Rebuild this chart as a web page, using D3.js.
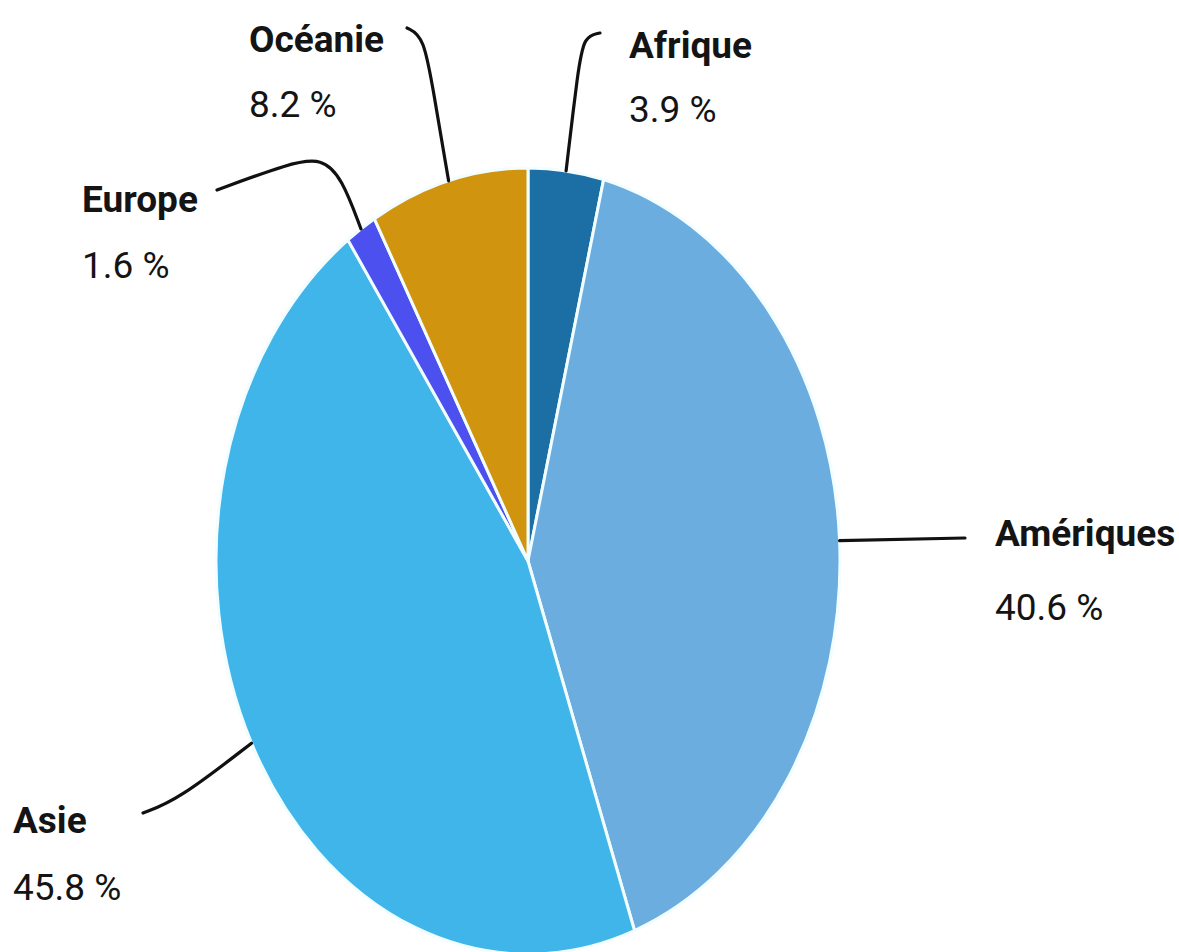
<!DOCTYPE html>
<html lang="fr">
<head>
<meta charset="utf-8">
<script src="https://cdn.jsdelivr.net/npm/d3@7"></script>
<style>
  html, body { margin: 0; padding: 0; background: #ffffff; }
  svg { display: block; }
  text { font-family: Roboto, "Noto Sans", sans-serif; fill: #141414; }
</style>
</head>
<body>
<svg id="chart" width="1179" height="952"></svg>
<script>
// Répartition par continent (%), dans le sens horaire depuis midi
const regions = ["Afrique", "Amériques", "Asie", "Europe", "Océanie"];
const shares = [3.9, 40.6, 45.8, 1.6, 8.2];
const shareLabels = ["3.9 %", "40.6 %", "45.8 %", "1.6 %", "8.2 %"];
const colors = ["#1b6fa5", "#6badde", "#40b5ea", "#4b50ee", "#d0940f"];

// Label anchors: [x, name baseline, value baseline]
const labelPos = [
  [629, 58, 122],
  [995, 546, 620],
  [13, 833, 900],
  [82, 212, 278],
  [249, 52, 117]
];
// Leader line control points, from the slice edge out to the label
const leaderPoints = [
  [[578, 70], [584, 36], [600, 33]],
  [[965, 538]],
  [[178, 800], [143, 813]],
  [[342, 178], [322, 158], [290, 163], [217, 190]],
  [[434, 95], [424, 36], [407, 28]]
];

const svg = d3.select("#chart");
const cx = 528, cy = 561, r = 312, sy = 1.26;

const pie = d3.pie().sort(null).value(d => d)(shares);
const arc = d3.arc().innerRadius(0).outerRadius(r);

// The disc is stretched vertically into an ellipse
const g = svg.append("g").attr("transform", `translate(${cx},${cy}) scale(1,${sy})`);
g.selectAll("path.slice")
  .data(pie)
  .join("path")
  .attr("class", "slice")
  .attr("d", arc)
  .attr("fill", (d, i) => colors[i])
  .attr("stroke", "#f2fdff")
  .attr("stroke-width", 3)
  .attr("stroke-linejoin", "round")
  .attr("vector-effect", "non-scaling-stroke");

// Leader lines start at each slice's mid-angle on the rim
const line = d3.line().curve(d3.curveBasis);
pie.forEach((d, i) => {
  const a = (d.startAngle + d.endAngle) / 2;
  const start = [cx + r * Math.sin(a), cy - r * sy * Math.cos(a)];
  svg.append("path")
    .attr("d", line([start, ...leaderPoints[i]]))
    .attr("fill", "none")
    .attr("stroke", "#111")
    .attr("stroke-width", 3.2)
    .attr("stroke-linecap", "round");
});

// Labels: region name (bold) and its share
regions.forEach((name, i) => {
  const [x, y1, y2] = labelPos[i];
  svg.append("text")
    .attr("x", x).attr("y", y1)
    .attr("font-size", 37).attr("font-weight", 700)
    .text(name);
  svg.append("text")
    .attr("x", x).attr("y", y2)
    .attr("font-size", 37).attr("font-weight", 400)
    .text(shareLabels[i]);
});
</script>
</body>
</html>
